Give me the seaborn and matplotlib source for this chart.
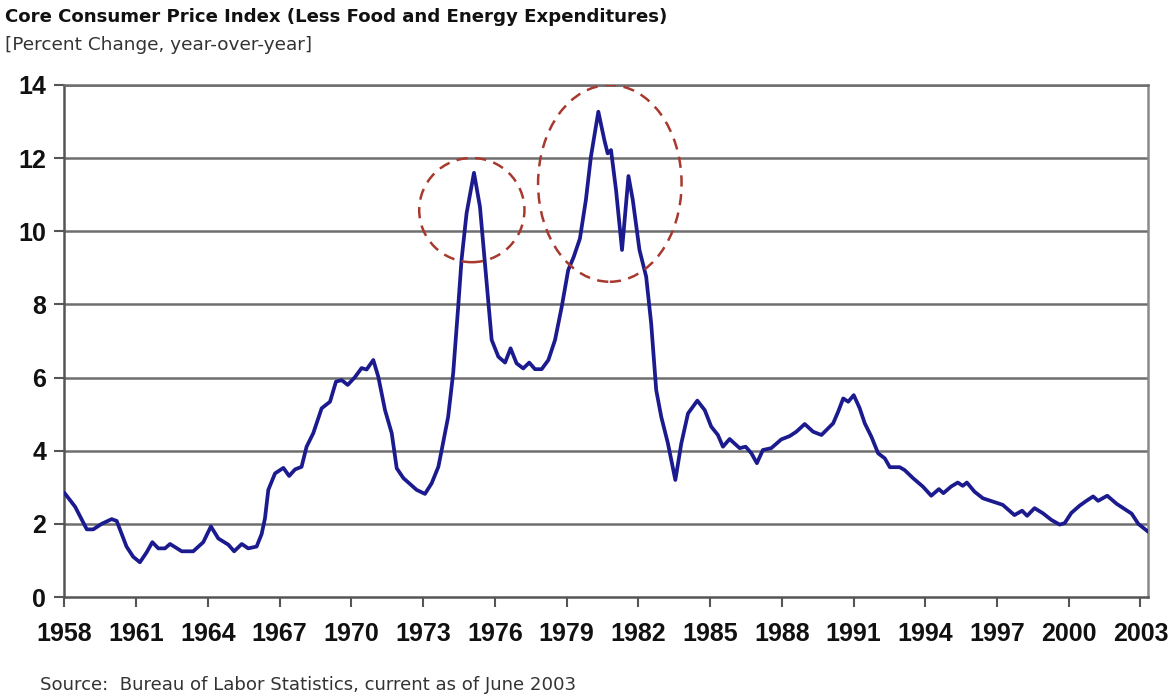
import numpy as np
import pandas as pd
import matplotlib
matplotlib.use("Agg")
import matplotlib.pyplot as plt
from matplotlib.patches import Ellipse
import seaborn as sns

# core CPI, % change yoy
years = [
    1958.0, 1958.45, 1958.94, 1959.21, 1959.56, 1959.98, 1960.19, 1960.6, 1960.88, 1961.16,
    1961.44, 1961.68, 1961.93, 1962.21, 1962.42, 1962.91, 1963.39, 1963.81, 1964.13, 1964.44,
    1964.86, 1965.1, 1965.42, 1965.69, 1966.04, 1966.25, 1966.39, 1966.53, 1966.81, 1967.16,
    1967.4, 1967.65, 1967.92, 1968.13, 1968.41, 1968.76, 1969.11, 1969.36, 1969.6, 1969.85,
    1970.15, 1970.43, 1970.64, 1970.92, 1971.13, 1971.41, 1971.69, 1971.9, 1972.18, 1972.73,
    1973.08, 1973.36, 1973.64, 1973.78, 1974.05, 1974.26, 1974.47, 1974.61, 1974.82, 1975.13,
    1975.38, 1975.59, 1975.73, 1975.87, 1976.15, 1976.43, 1976.66, 1976.91, 1977.19, 1977.44,
    1977.68, 1977.96, 1978.24, 1978.52, 1978.8, 1979.07, 1979.3, 1979.56, 1979.81, 1980.02,
    1980.33, 1980.58, 1980.72, 1980.86, 1981.07, 1981.32, 1981.59, 1981.77, 1982.05, 1982.33,
    1982.54, 1982.75, 1982.96, 1983.24, 1983.55, 1983.8, 1984.08, 1984.47, 1984.78, 1985.05,
    1985.33, 1985.54, 1985.82, 1986.24, 1986.49, 1986.73, 1986.96, 1987.21, 1987.56, 1987.98,
    1988.33, 1988.61, 1988.96, 1989.31, 1989.66, 1990.15, 1990.36, 1990.57, 1990.78, 1991.01,
    1991.26, 1991.47, 1991.75, 1992.03, 1992.31, 1992.52, 1992.93, 1993.14, 1993.49, 1993.9,
    1994.25, 1994.57, 1994.76, 1995.08, 1995.36, 1995.57, 1995.74, 1996.06, 1996.41, 1996.97,
    1997.24, 1997.73, 1998.05, 1998.26, 1998.57, 1998.92, 1999.27, 1999.62, 1999.83, 2000.11,
    2000.46, 2000.74, 2001.02, 2001.23, 2001.61, 2002.0, 2002.42, 2002.63, 2002.91, 2003.33,
]
core_cpi = [
    2.85, 2.47, 1.85, 1.85, 2.0, 2.13, 2.08, 1.38, 1.1, 0.95,
    1.22, 1.5, 1.33, 1.33, 1.45, 1.25, 1.25, 1.5, 1.93, 1.6,
    1.43, 1.25, 1.45, 1.33, 1.38, 1.72, 2.15, 2.93, 3.38, 3.53,
    3.31, 3.49, 3.56, 4.11, 4.48, 5.16, 5.34, 5.89, 5.93, 5.8,
    6.01, 6.26, 6.22, 6.48, 6.02, 5.11, 4.48, 3.52, 3.25, 2.93,
    2.82, 3.11, 3.56, 4.02, 4.93, 6.12, 7.94, 9.22, 10.49, 11.6,
    10.67, 9.12, 8.12, 7.03, 6.57, 6.41, 6.8, 6.39, 6.25, 6.41,
    6.23, 6.23, 6.48, 7.03, 7.94, 8.94, 9.3, 9.8, 10.86, 12.04,
    13.27, 12.5, 12.13, 12.22, 11.13, 9.49, 11.51, 10.86, 9.49, 8.76,
    7.48, 5.66, 4.93, 4.2, 3.2, 4.2, 5.02, 5.37, 5.11, 4.66,
    4.43, 4.11, 4.32, 4.07, 4.11, 3.93, 3.66, 4.02, 4.07, 4.31,
    4.4, 4.52, 4.73, 4.52, 4.43, 4.75, 5.07, 5.43, 5.34, 5.52,
    5.16, 4.75, 4.38, 3.93, 3.79, 3.55, 3.55, 3.47, 3.25, 3.02,
    2.77, 2.95, 2.84, 3.02, 3.13, 3.04, 3.13, 2.88, 2.7, 2.58,
    2.52, 2.24, 2.36, 2.22, 2.43, 2.29, 2.11, 1.98, 2.02, 2.3,
    2.5, 2.63, 2.75, 2.63, 2.77, 2.55, 2.37, 2.28, 2.0, 1.78,
]
year_ticks = list(range(1958, 2004, 3))
value_ticks = list(range(0, 15, 2))

# the two dashed rings around the inflation peaks: (center year, center value, width, height)
rings = [(1975.04, 10.58, 4.4, 2.85), (1980.81, 11.31, 6.0, 5.38)]

df = pd.DataFrame({"year": years, "cpi": core_cpi})

sns.set_theme(style="white")
plt.rcParams["font.family"] = ["Liberation Sans", "DejaVu Sans"]

fig = plt.figure(figsize=(11.76, 6.99), dpi=100)
ax = fig.add_axes([0.0547, 0.1459, 0.9218, 0.7325])

for v in value_ticks[1:]:
    ax.axhline(v, color="#6e6e6e", lw=1.8, zorder=1)

sns.lineplot(data=df, x="year", y="cpi", color="#1b1b8f", lw=2.7, estimator=None, ax=ax, zorder=3)

for cx, cy, w, h in rings:
    ax.add_patch(Ellipse((cx, cy), w, h, fill=False, ls=(0, (4.5, 3)), lw=1.8,
                         edgecolor="#a8392f", zorder=4))

ax.set_xlim(1958, 2003.33)
ax.set_ylim(0, 14)
ax.set_xticks(year_ticks)
ax.set_yticks(value_ticks)
ax.set_xlabel("")
ax.set_ylabel("")
ax.tick_params(axis="both", which="both", direction="out", length=7, width=1.5,
               color="#555555", labelsize=18, pad=6, bottom=True, left=True)
ax.tick_params(axis="x", pad=11)
for lab in ax.get_xticklabels() + ax.get_yticklabels():
    lab.set_fontweight("bold")
    lab.set_color("#111111")

for side in ["left", "bottom", "right", "top"]:
    ax.spines[side].set_visible(True)
    ax.spines[side].set_color("#555555")
    ax.spines[side].set_linewidth(1.8)
ax.spines["right"].set_color("#8a8a8a")
ax.spines["top"].set_color("#6e6e6e")

fig.text(0.004, 0.975, "Core Consumer Price Index (Less Food and Energy Expenditures)",
         fontsize=13.1, fontweight="bold", family="DejaVu Sans", ha="left", va="center",
         color="#111111")
fig.text(0.004, 0.935, "[Percent Change, year-over-year]",
         fontsize=13.3, family="DejaVu Sans", ha="left", va="center", color="#333333")
fig.text(0.034, 0.02, "Source:  Bureau of Labor Statistics, current as of June 2003",
         fontsize=13.1, family="DejaVu Sans", ha="left", va="center", color="#333333")

fig.savefig("out.png", dpi=100)
